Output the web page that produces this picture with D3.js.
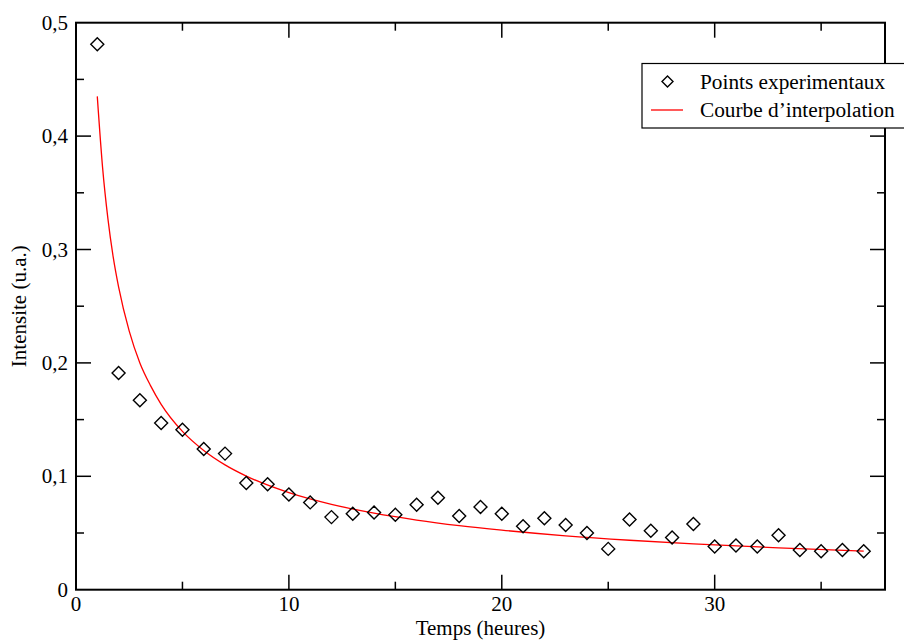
<!DOCTYPE html>
<html>
<head>
<meta charset="utf-8">
<script src="https://cdn.jsdelivr.net/npm/d3@7"></script>
<style>
  html, body { margin: 0; padding: 0; background: #fff; }
  svg { display: block; }
</style>
</head>
<body>
<svg id="chart" width="904" height="641" font-family="'Liberation Serif', 'DejaVu Serif', serif"></svg>
<script>
// ---- data ----
const hours = [1,2,3,4,5,6,7,8,9,10,11,12,13,14,15,16,17,18,19,20,21,22,23,24,25,26,27,28,29,30,31,32,33,34,35,36,37];
const intensity = [0.481,0.191,0.167,0.147,0.141,0.124,0.120,0.094,0.093,0.084,0.077,0.064,0.067,0.068,0.066,0.075,0.081,0.065,0.073,0.067,0.056,0.063,0.057,0.050,0.036,0.062,0.052,0.046,0.058,0.038,0.039,0.038,0.048,0.035,0.034,0.035,0.034];
const curveHours = [1,1.25,1.5,1.75,2,2.5,3,3.5,4,5,6,7,8,10,12,14,16,18,20,23,26,29,33,37];
const curveIntensity = [0.435,0.372,0.327,0.293,0.267,0.228,0.200,0.180,0.1635,0.1396,0.1228,0.1101,0.1002,0.0856,0.0753,0.0675,0.0614,0.0565,0.0525,0.0475,0.0436,0.0404,0.0369,0.0340];
const xMajorTicks = [0,10,20,30];
const xMinorTicks = [5,15,25,35];
const yMajorTicks = [0,0.1,0.2,0.3,0.4,0.5];
const yMinorTicks = [0.05,0.15,0.25,0.35,0.45];
const legendLabels = ["Points experimentaux", "Courbe d\u2019interpolation"];
const xTitle = "Temps (heures)";
const yTitle = "Intensite (u.a.)";

// ---- layout ----
const FONT = "'Liberation Serif', 'Times New Roman', 'DejaVu Serif', serif";
const svg = d3.select("#chart");
const L = 76, R = 885, T = 22.7, B = 589.7;
const x = d3.scaleLinear().domain([0, 38]).range([L, R]);
const y = d3.scaleLinear().domain([0, 0.5]).range([B, T]);
const fmt = d => d3.format(".1~f")(d).replace(".", ",");
const FS = 21;

// frame
svg.append("rect").attr("x", L).attr("y", T).attr("width", R - L).attr("height", B - T)
  .attr("fill", "none").attr("stroke", "#000").attr("stroke-width", 2);

// ticks (inward on all four sides)
const majorLen = 15, minorLen = 8;
function xTicks(vals, len) {
  svg.append("g").selectAll("line").data(vals).join("line")
    .attr("x1", d => x(d)).attr("x2", d => x(d)).attr("y1", B).attr("y2", B - len)
    .attr("stroke", "#000").attr("stroke-width", 1.5);
  svg.append("g").selectAll("line").data(vals).join("line")
    .attr("x1", d => x(d)).attr("x2", d => x(d)).attr("y1", T).attr("y2", T + len)
    .attr("stroke", "#000").attr("stroke-width", 1.5);
}
function yTicks(vals, len) {
  svg.append("g").selectAll("line").data(vals).join("line")
    .attr("y1", d => y(d)).attr("y2", d => y(d)).attr("x1", L).attr("x2", L + len)
    .attr("stroke", "#000").attr("stroke-width", 1.5);
  svg.append("g").selectAll("line").data(vals).join("line")
    .attr("y1", d => y(d)).attr("y2", d => y(d)).attr("x1", R).attr("x2", R - len)
    .attr("stroke", "#000").attr("stroke-width", 1.5);
}
xTicks(xMajorTicks.filter(d => d > 0), majorLen);
xTicks(xMinorTicks, minorLen);
yTicks(yMajorTicks.filter(d => d > 0 && d < 0.5), majorLen);
yTicks(yMinorTicks, minorLen);

// tick labels
svg.append("g").selectAll("text").data(xMajorTicks).join("text")
  .attr("x", d => x(d)).attr("y", 610.5).attr("text-anchor", "middle")
  .style("font-family", FONT).attr("font-size", FS).text(d => d);
svg.append("g").selectAll("text").data(yMajorTicks).join("text")
  .attr("x", 68).attr("y", d => y(d) + 7).attr("text-anchor", "end")
  .style("font-family", FONT).attr("font-size", FS).text(d => fmt(d));

// axis titles
svg.append("text").attr("x", (L + R) / 2).attr("y", 634.5).attr("text-anchor", "middle")
  .style("font-family", FONT).attr("font-size", FS).text(xTitle);
svg.append("text").attr("transform", `translate(26,${(T + B) / 2}) rotate(-90)`)
  .attr("text-anchor", "middle").style("font-family", FONT).attr("font-size", FS).text(yTitle);

// fitted curve
const line = d3.line().x((d, i) => x(curveHours[i])).y(d => y(d)).curve(d3.curveMonotoneX);
svg.append("path").attr("d", line(curveIntensity))
  .attr("fill", "none").attr("stroke", "#ff0000").attr("stroke-width", 1.3);

// points (diamonds)
const dS = 6.5;
const diamond = (cx, cy, s) => `M${cx},${cy - s}L${cx + s},${cy}L${cx},${cy + s}L${cx - s},${cy}Z`;
svg.append("g").selectAll("path").data(intensity).join("path")
  .attr("d", (d, i) => diamond(x(hours[i]), y(d), dS))
  .attr("fill", "none").attr("stroke", "#000").attr("stroke-width", 1.4);

// legend
const lg = svg.append("g");
lg.append("rect").attr("x", 642).attr("y", 63.5).attr("width", 300).attr("height", 64.5)
  .attr("fill", "#fff").attr("stroke", "#000").attr("stroke-width", 1.2);
lg.append("path").attr("d", diamond(667.5, 81.5, 5.5))
  .attr("fill", "none").attr("stroke", "#000").attr("stroke-width", 1.4);
lg.append("line").attr("x1", 651).attr("x2", 683).attr("y1", 110).attr("y2", 110)
  .attr("stroke", "#ff0000").attr("stroke-width", 1.3);
lg.selectAll("text").data(legendLabels).join("text")
  .attr("x", 700).attr("y", (d, i) => 88.5 + i * 28.5)
  .style("font-family", FONT).attr("font-size", 21.3).text(d => d);
</script>
</body>
</html>
